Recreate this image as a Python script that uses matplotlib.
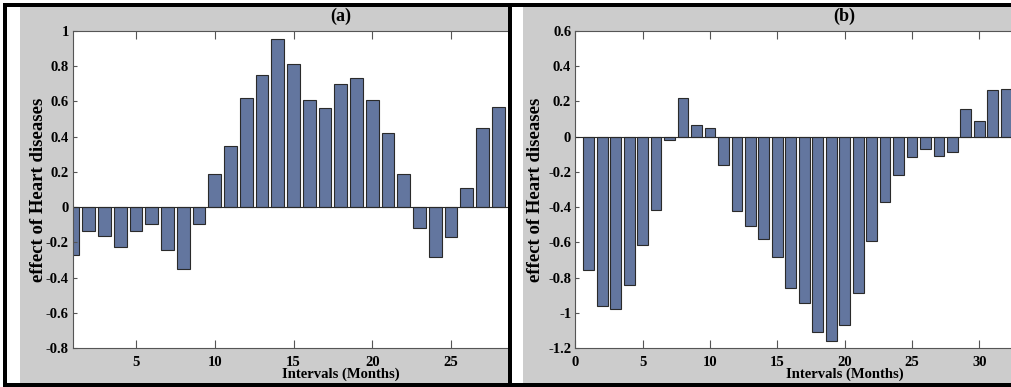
import numpy as np
import matplotlib
matplotlib.use("Agg")
import matplotlib.pyplot as plt
from matplotlib.patches import Rectangle

# valeurs
mois_a = np.arange(1, 30)
effet_a = [-0.27, -0.135, -0.163, -0.227, -0.137, -0.097, -0.246, -0.352, -0.097, 0.187,
           0.348, 0.617, 0.75, 0.953, 0.81, 0.608, 0.564, 0.697, 0.735, 0.608,
           0.419, 0.187, -0.121, -0.286, -0.167, 0.106, 0.447, 0.57, 0.443]
mois_b = np.arange(1, 33)
effet_b = [-0.758, -0.962, -0.978, -0.843, -0.616, -0.417, -0.017, 0.218, 0.066, 0.051,
           -0.16, -0.424, -0.51, -0.582, -0.686, -0.86, -0.944, -1.11, -1.163, -1.067,
           -0.889, -0.59, -0.372, -0.22, -0.114, -0.069, -0.109, -0.086, 0.157, 0.088,
           0.263, 0.27]
ticks_a = [-0.8, -0.6, -0.4, -0.2, 0, 0.2, 0.4, 0.6, 0.8, 1]
labels_a = ['-0.8', '-0.6', '-0.4', '-0.2', '0', '0.2', '0.4', '0.6', '0.8', '1']
ticks_b = [-1.2, -1, -0.8, -0.6, -0.4, -0.2, 0, 0.2, 0.4, 0.6]
labels_b = ['-1.2', '-1', '-0.8', '-0.6', '-0.4', '-0.2', '0', '0.2', '0.4', '0.6']

W, H = 1011, 387
plt.rcParams['font.family'] = 'Liberation Serif'
plt.rcParams['font.weight'] = 'bold'

fig = plt.figure(figsize=(W / 100, H / 100), dpi=100)
fig.patch.set_facecolor('white')

def rect(x0, y0, x1, y1, color, z):
    # coordonnées en pixels depuis le coin haut gauche
    fig.patches.append(Rectangle((x0 / W, 1 - y1 / H), (x1 - x0) / W, (y1 - y0) / H,
                                 transform=fig.transFigure, facecolor=color,
                                 edgecolor='none', zorder=z))

gris = '#cccccc'
rect(20, 7, 508, 383, gris, -1)
rect(512, 7, 523, 383, 'white', 1)
rect(523, 7, 1011, 383, gris, 1)
for (x0, y0, x1, y1) in [(3, 3, 1011, 7), (3, 3, 7, 387), (508, 3, 512, 387), (3, 383, 1011, 387)]:
    rect(x0, y0, x1, y1, 'black', 3)

def panneau(left, right, x, y, xlim, ylim, yt, yl, xt, titre, z, ylab_x):
    ax = fig.add_axes([left / W, 1 - 348 / H, (right - left) / W, (348 - 31) / H], zorder=z)
    ax.set_facecolor('white')
    ax.bar(x, y, width=0.8, color='#63769f', edgecolor='#2a2a2a', linewidth=0.8)
    ax.axhline(0, color='#2a2a2a', linewidth=0.8)
    ax.set_xlim(*xlim)
    ax.set_ylim(*ylim)
    ax.set_yticks(yt)
    ax.set_yticklabels(yl)
    ax.set_xticks(xt)
    ax.tick_params(axis='both', direction='in', labelsize=10.5, color='#555555', width=0.8, pad=3)
    ax.tick_params(axis='x', length=5.5, top=True, pad=6)
    ax.tick_params(axis='y', length=3)
    for s in ax.spines.values():
        s.set_color('#555555')
        s.set_linewidth(0.8)
    ax.set_title(titre, fontsize=13, fontweight='bold', pad=7)
    ax.set_xlabel('Intervals (Months)', fontsize=10.5, fontweight='bold', labelpad=-1)
    ax.set_ylabel('effect of Heart diseases', fontsize=13.5, fontweight='bold')
    # position du titre de l'axe y (bord droit du texte tourné) en pixels
    ax.yaxis.set_label_coords((ylab_x - left) / (right - left), 0.5)
    return ax

ax1 = panneau(73, 608.5, mois_a, effet_a, (1, 35), (-0.8, 1), ticks_a, labels_a,
              [5, 10, 15, 20, 25], '(a)', 0, 47)
ax2 = panneau(575.3, 1114, mois_b, effet_b, (0, 40), (-1.2, 0.6), ticks_b, labels_b,
              [0, 5, 10, 15, 20, 25, 30], '(b)', 2, 544)

fig.savefig('out.png', dpi=100)
